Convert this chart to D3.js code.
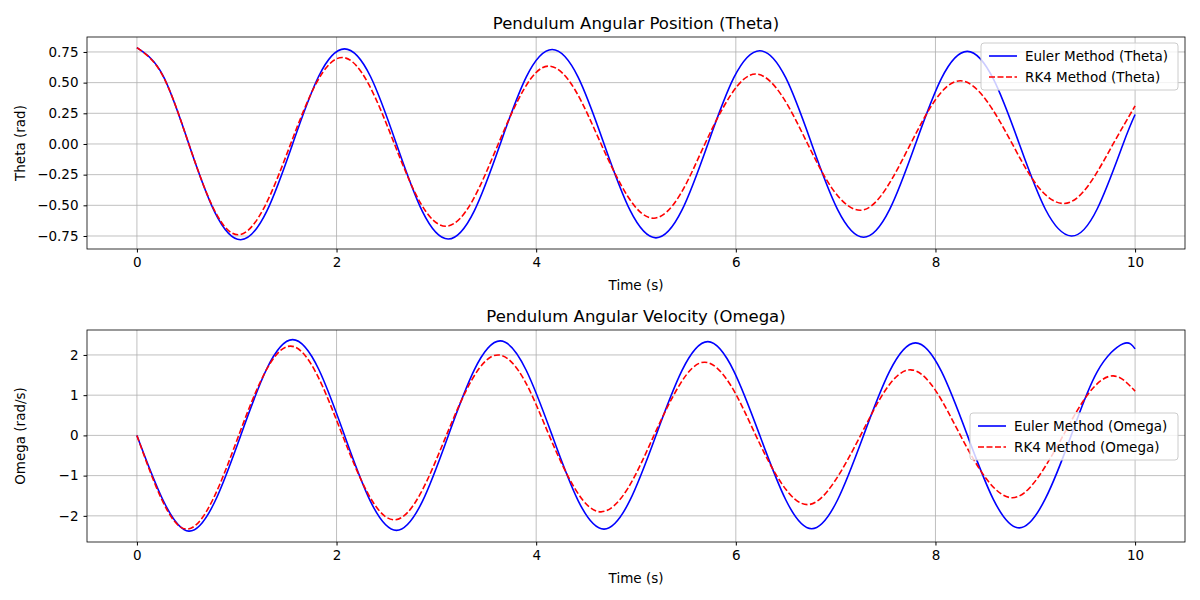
<!DOCTYPE html>
<html>
<head>
<meta charset="utf-8">
<script src="https://cdn.jsdelivr.net/npm/d3@7"></script>
<style>
  body { margin: 0; background: #fff; }
  text { font-family: "DejaVu Sans", sans-serif; }
</style>
</head>
<body>
<svg id="chart" width="1200" height="600"></svg>
<script>
// values: [time, value]
const eulerTheta = [[0,0.785],[0.26,0.56],[0.52,0],[0.78,-0.555],[1.04,-0.78],[1.3,-0.55],[1.56,0],[1.82,0.55],[2.08,0.775],[2.34,0.55],[2.6,0],[2.86,-0.55],[3.12,-0.775],[3.38,-0.545],[3.64,0],[3.9,0.545],[4.16,0.77],[4.42,0.545],[4.68,0],[4.94,-0.54],[5.2,-0.765],[5.46,-0.54],[5.72,0],[5.98,0.54],[6.24,0.76],[6.5,0.54],[6.76,0],[7.02,-0.535],[7.28,-0.76],[7.54,-0.535],[7.8,0],[8.06,0.535],[8.32,0.755],[8.58,0.53],[8.84,0],[9.1,-0.53],[9.36,-0.75],[9.62,-0.53],[9.88,0],[10,0.24]];
const rk4Theta = [[0,0.785],[0.26,0.555],[0.52,0],[0.77,-0.53],[1.02,-0.74],[1.28,-0.51],[1.54,0],[1.8,0.5],[2.06,0.705],[2.32,0.49],[2.58,0],[2.84,-0.48],[3.1,-0.67],[3.36,-0.465],[3.62,0],[3.88,0.45],[4.13,0.635],[4.39,0.44],[4.65,0],[4.92,-0.43],[5.18,-0.605],[5.44,-0.415],[5.69,0],[5.95,0.4],[6.2,0.57],[6.46,0.395],[6.72,0],[6.98,-0.38],[7.25,-0.54],[7.5,-0.37],[7.75,0],[8.0,0.36],[8.25,0.515],[8.51,0.355],[8.77,0],[9.02,-0.34],[9.28,-0.485],[9.53,-0.34],[9.78,0],[10,0.31]];
const eulerOmega = [[0,0],[0.26,-1.6],[0.52,-2.38],[0.78,-1.65],[1.04,0],[1.3,1.65],[1.56,2.38],[1.82,1.65],[2.08,0],[2.34,-1.64],[2.6,-2.36],[2.86,-1.64],[3.12,0],[3.38,1.63],[3.64,2.35],[3.9,1.62],[4.16,0],[4.42,-1.62],[4.68,-2.33],[4.94,-1.61],[5.2,0],[5.46,1.61],[5.72,2.33],[5.98,1.6],[6.24,0],[6.5,-1.6],[6.76,-2.32],[7.02,-1.6],[7.28,0],[7.54,1.59],[7.8,2.3],[8.06,1.59],[8.32,0],[8.58,-1.59],[8.84,-2.3],[9.1,-1.58],[9.36,0],[9.62,1.58],[9.88,2.28],[10,2.15]];
const rk4Omega = [[0,0],[0.25,-1.6],[0.5,-2.33],[0.76,-1.6],[1.02,0],[1.28,1.55],[1.54,2.22],[1.8,1.53],[2.06,0],[2.32,-1.47],[2.58,-2.1],[2.84,-1.45],[3.1,0],[3.36,1.4],[3.62,2.0],[3.88,1.38],[4.13,0],[4.39,-1.33],[4.65,-1.9],[4.92,-1.31],[5.18,0],[5.44,1.27],[5.69,1.82],[5.95,1.24],[6.2,0],[6.46,-1.2],[6.72,-1.72],[6.98,-1.18],[7.25,0],[7.5,1.13],[7.75,1.63],[8.0,1.12],[8.25,0],[8.51,-1.08],[8.77,-1.55],[9.02,-1.07],[9.28,0],[9.53,1.03],[9.78,1.48],[10,1.1]];
const xTicks = [0, 2, 4, 6, 8, 10];
const thetaTicks = [-0.75, -0.5, -0.25, 0, 0.25, 0.5, 0.75];
const omegaTicks = [-2, -1, 0, 1, 2];

const svg = d3.select('#chart');

function panel(cfg) {
  const { top, bottom, left, right } = cfg;
  const x = d3.scaleLinear().domain([-0.5, 10.5]).range([left, right]);
  const y = d3.scaleLinear().domain(cfg.yDomain).range([bottom, top]);
  const g = svg.append('g');

  // grid
  g.selectAll('.gx').data(xTicks).join('line')
    .attr('x1', d => x(d)).attr('x2', d => x(d)).attr('y1', top).attr('y2', bottom)
    .attr('stroke', '#b0b0b0').attr('stroke-width', 0.8);
  g.selectAll('.gy').data(cfg.yTicks).join('line')
    .attr('x1', left).attr('x2', right).attr('y1', d => y(d)).attr('y2', d => y(d))
    .attr('stroke', '#b0b0b0').attr('stroke-width', 0.8);

  const xAxis = g.append('g').attr('transform', `translate(0,${bottom})`)
    .call(d3.axisBottom(x).tickValues(xTicks).tickSize(3.5).tickPadding(5).tickFormat(d3.format('d')));
  const yAxis = g.append('g').attr('transform', `translate(${left},0)`)
    .call(d3.axisLeft(y).tickValues(cfg.yTicks).tickSize(3.5).tickPadding(5).tickFormat(cfg.fmt));
  [xAxis, yAxis].forEach(a => {
    a.select('.domain').remove();
    a.selectAll('text').attr('font-size', 13.5).attr('fill', '#000').style('font-family', 'DejaVu Sans');
    a.selectAll('line').attr('stroke', '#000');
  });

  const line = d3.line().x(d => x(d[0])).y(d => y(d[1])).curve(d3.curveNatural);
  g.append('path').datum(cfg.euler).attr('d', line)
    .attr('fill', 'none').attr('stroke', 'blue').attr('stroke-width', 1.6);
  g.append('path').datum(cfg.rk4).attr('d', line)
    .attr('fill', 'none').attr('stroke', 'red').attr('stroke-width', 1.6).attr('stroke-dasharray', '6,2.5');

  g.append('rect').attr('x', left).attr('y', top).attr('width', right - left).attr('height', bottom - top)
    .attr('fill', 'none').attr('stroke', '#000').attr('stroke-width', 0.8);

  g.append('text').attr('x', (left + right) / 2).attr('y', top - 8).attr('text-anchor', 'middle')
    .attr('font-size', 16.5).text(cfg.title);
  g.append('text').attr('x', (left + right) / 2).attr('y', bottom + 41).attr('text-anchor', 'middle')
    .attr('font-size', 13.5).text('Time (s)');
  g.append('text').attr('transform', `translate(${left - 62},${(top + bottom) / 2}) rotate(-90)`)
    .attr('text-anchor', 'middle').attr('font-size', 13.5).text(cfg.yLabel);

  // legend
  const lg = g.append('g').attr('transform', `translate(${cfg.legend[0]},${cfg.legend[1]})`);
  lg.append('rect').attr('width', cfg.legendW).attr('height', 47).attr('rx', 3)
    .attr('fill', 'rgba(255,255,255,0.8)').attr('stroke', '#ccc');
  [['blue', null, cfg.names[0]], ['red', '6,2.5', cfg.names[1]]].forEach((it, i) => {
    const yy = 13 + i * 21;
    lg.append('line').attr('x1', 8).attr('x2', 36).attr('y1', yy).attr('y2', yy)
      .attr('stroke', it[0]).attr('stroke-width', 1.6).attr('stroke-dasharray', it[1]);
    lg.append('text').attr('x', 44).attr('y', yy + 4.5).attr('font-size', 13.5).text(it[2]);
  });
}

panel({ top: 37, bottom: 249, left: 87, right: 1185, yDomain: [-0.856, 0.872], yTicks: thetaTicks,
  fmt: d3.format('.2f'), euler: eulerTheta, rk4: rk4Theta,
  title: 'Pendulum Angular Position (Theta)', yLabel: 'Theta (rad)',
  legend: [981, 43], legendW: 197, names: ['Euler Method (Theta)', 'RK4 Method (Theta)'] });

panel({ top: 330, bottom: 542, left: 87, right: 1185, yDomain: [-2.65, 2.62], yTicks: omegaTicks,
  fmt: d3.format('d'), euler: eulerOmega, rk4: rk4Omega,
  title: 'Pendulum Angular Velocity (Omega)', yLabel: 'Omega (rad/s)',
  legend: [970, 413], legendW: 208, names: ['Euler Method (Omega)', 'RK4 Method (Omega)'] });
</script>
</body>
</html>
